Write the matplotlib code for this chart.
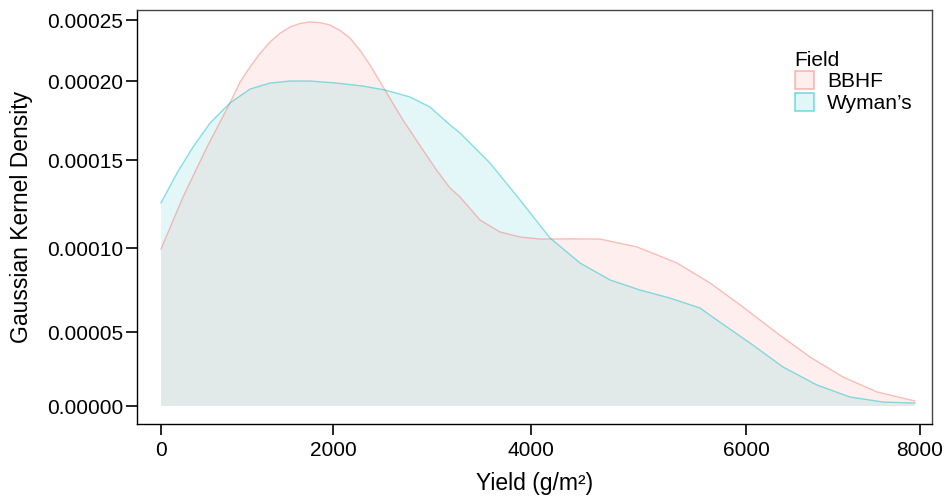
import numpy as np
import matplotlib
matplotlib.use("Agg")
import matplotlib.pyplot as plt
from matplotlib.patches import Patch

plt.rcParams['font.family'] = ['Liberation Sans', 'DejaVu Sans']

# density estimates per field (yield in g/m^2, density)
bbhf_x = [0, 256, 535, 802, 920, 1035, 1150, 1267, 1385, 1500, 1617, 1733, 1850,
          1965, 2070, 2172, 2274, 2374, 2525, 2707, 2909, 3050, 3182, 3283, 3485,
          3687, 3889, 4084, 4400, 4642, 4986, 5358, 5665, 5972, 6356, 6736, 7115,
          7506, 7942]
bbhf_y = [9.94e-5, 1.290e-4, 1.582e-4, 1.861e-4, 1.995e-4, 2.115e-4, 2.225e-4,
          2.320e-4, 2.392e-4, 2.443e-4, 2.472e-4, 2.484e-4, 2.478e-4, 2.459e-4,
          2.415e-4, 2.352e-4, 2.250e-4, 2.131e-4, 1.943e-4, 1.753e-4, 1.563e-4,
          1.440e-4, 1.341e-4, 1.290e-4, 1.159e-4, 1.091e-4, 1.063e-4, 1.051e-4,
          1.052e-4, 1.051e-4, 1.006e-4, 9.11e-5, 7.92e-5, 6.49e-5, 4.93e-5,
          3.31e-5, 1.96e-5, 9.5e-6, 3.4e-6]

wyman_x = [0, 186, 372, 570, 802, 1035, 1267, 1500, 1733, 2040, 2303, 2525, 2778,
           2980, 3182, 3283, 3586, 3889, 4177, 4456, 4735, 5014, 5293, 5572, 5730,
           6046, 6425, 6816, 7195, 7575, 7942]
wyman_y = [1.256e-4, 1.426e-4, 1.582e-4, 1.734e-4, 1.861e-4, 1.949e-4, 1.987e-4,
           2.0e-4, 2.0e-4, 1.987e-4, 1.968e-4, 1.943e-4, 1.899e-4, 1.835e-4,
           1.722e-4, 1.671e-4, 1.483e-4, 1.273e-4, 1.057e-4, 9.11e-5, 8.10e-5,
           7.50e-5, 7.02e-5, 6.43e-5, 5.71e-5, 4.26e-5, 2.64e-5, 1.42e-5, 6.1e-6,
           2.7e-6, 2.0e-6]

fields = ["BBHF", "Wyman\u2019s"]
colors = ["#F8766D", "#00BFC4"]

x_ticks = [0, 2000, 4000, 6000, 8000]
y_ticks = [0, 5e-5, 1e-4, 1.5e-4, 2e-4, 2.5e-4]
y_ticklabels = ["0.00000", "0.00005", "0.00010", "0.00015", "0.00020", "0.00025"]

# uneven axis spacing: where each tick sits along the axis
x_tick_at = [0, 172, 370, 585, 759]
y_tick_at = [0, 74, 158, 246, 325, 386]


def piecewise(vals, pos):
    vals = np.asarray(vals, float)
    pos = np.asarray(pos, float)
    # extend both ends linearly so limits outside the ticks still work
    v = np.r_[vals[0] - 100 * (vals[1] - vals[0]), vals, vals[-1] + 100 * (vals[-1] - vals[-2])]
    p = np.r_[pos[0] - 100 * (pos[1] - pos[0]), pos, pos[-1] + 100 * (pos[-1] - pos[-2])]
    fwd = lambda a: np.interp(a, v, p)
    inv = lambda a: np.interp(a, p, v)
    return fwd, inv


fig = plt.figure(figsize=(9.47, 4.96), dpi=100)
ax = fig.add_axes([137 / 947, 1 - 424 / 496, 795 / 947, 414 / 496])

ax.set_xscale('function', functions=piecewise(x_ticks, x_tick_at))
ax.set_yscale('function', functions=piecewise(y_ticks, y_tick_at))

for xs, ys, c in [(bbhf_x, bbhf_y, colors[0]), (wyman_x, wyman_y, colors[1])]:
    ax.fill_between(xs, 0, ys, facecolor=matplotlib.colors.to_rgba(c, 0.11),
                    edgecolor='none')
    ax.plot(xs, ys, color=c, alpha=0.45, lw=1)

ax.set_xlim(-279, 8138)
ax.set_ylim(-1.216e-5, 2.582e-4)

ax.set_xticks(x_ticks)
ax.set_xticklabels([str(t) for t in x_ticks])
ax.set_yticks(y_ticks)
ax.set_yticklabels(y_ticklabels)
ax.minorticks_off()
ax.tick_params(length=8, width=1.2, labelsize=15, colors='black', pad=2)
ax.tick_params(axis='x', pad=4)
for s in ax.spines.values():
    s.set_linewidth(1)
    s.set_color('black')
ax.spines['top'].set_color('#444444')
ax.spines['right'].set_color('#444444')

ax.set_xlabel("Yield (g/m\u00b2)", fontsize=16.5, labelpad=9)
ax.set_ylabel("Gaussian Kernel Density", fontsize=16.5, labelpad=10)

# legend swatches with coloured outlines
leg_handles = [Patch(facecolor=matplotlib.colors.to_rgba(c, 0.12),
                     edgecolor=matplotlib.colors.to_rgba(c, 0.5), lw=1.2)
               for c in colors]
ax.legend(leg_handles, fields, title="Field", loc='upper left',
          bbox_to_anchor=(780 / 947, 1 - 36 / 496), bbox_transform=fig.transFigure,
          frameon=False, fontsize=15, title_fontsize=15, handlelength=0.95,
          handleheight=0.95, labelspacing=0.08, handletextpad=0.6,
          alignment='left', borderpad=0.2)

fig.savefig("out.png", dpi=100)
